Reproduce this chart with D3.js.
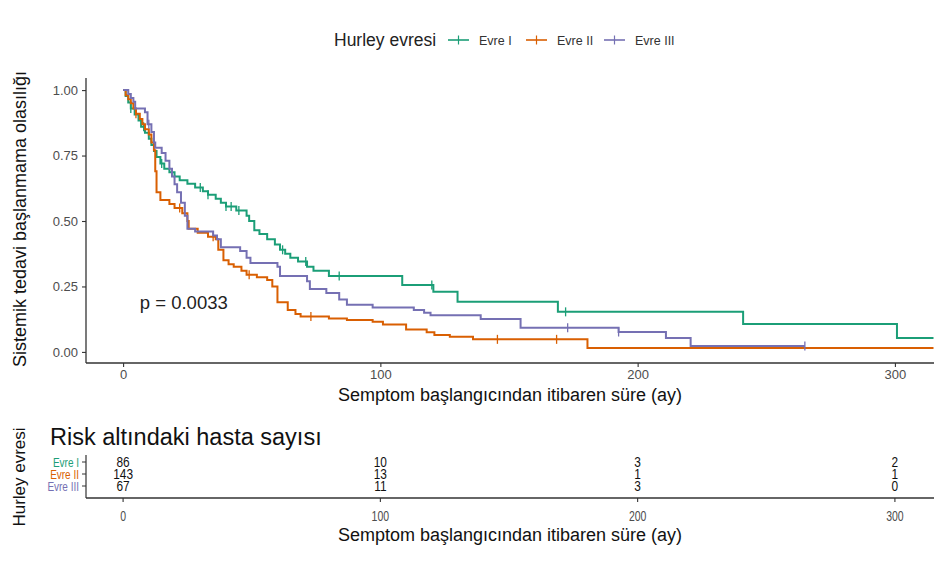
<!DOCTYPE html>
<html>
<head>
<meta charset="utf-8">
<script src="https://cdn.jsdelivr.net/npm/d3@7"></script>
<style>
  body { margin: 0; background: #fff; }
  svg { font-family: "Liberation Sans", Arial, sans-serif; }
</style>
</head>
<body>
<svg id="chart" width="936" height="584"></svg>
<script>
// group names + colours (Dark2 style)
const groups = ['Evre I', 'Evre II', 'Evre III']
const colors = ['#1B9E77', '#D95F02', '#7570B3']

// Kaplan-Meier steps: time (ay) where the curve drops, and new value
const evre1Time = [1, 2, 3, 4.5, 6, 7, 8.5, 10, 11, 12, 13, 14.5, 16, 18, 20, 22, 25, 28, 31, 33, 36, 38, 40, 44, 48, 49, 51, 53, 56, 59, 61, 63, 65, 68, 71.5, 74, 80, 108.5, 120.6, 130, 169, 241, 300.8]
const evre1Surv = [0.977, 0.953, 0.93, 0.907, 0.884, 0.86, 0.837, 0.814, 0.79, 0.767, 0.744, 0.72, 0.70, 0.686, 0.67, 0.656, 0.642, 0.628, 0.614, 0.60, 0.585, 0.57, 0.555, 0.54, 0.52, 0.50, 0.465, 0.45, 0.43, 0.41, 0.39, 0.375, 0.36, 0.345, 0.325, 0.31, 0.29, 0.256, 0.23, 0.192, 0.153, 0.107, 0.053]
const evre1End = 315
const evre1Censor = [3, 8, 15, 30, 33, 40, 42, 45, 62, 71, 84, 120, 172]

const evre2Time = [1, 2, 3, 4, 5, 6.5, 7.5, 8.5, 10, 11, 12, 12.5, 13, 14.5, 18, 20, 23, 25, 25.5, 29, 33, 36, 37, 39, 41, 43, 46, 48, 52, 56, 58, 60, 64, 67, 69, 80, 87, 97, 101, 110, 118, 121, 127, 136, 180.5]
const evre2Surv = [0.98, 0.965, 0.95, 0.93, 0.91, 0.89, 0.87, 0.85, 0.83, 0.80, 0.77, 0.69, 0.61, 0.58, 0.565, 0.55, 0.53, 0.50, 0.47, 0.455, 0.44, 0.43, 0.39, 0.35, 0.335, 0.325, 0.31, 0.295, 0.285, 0.275, 0.25, 0.19, 0.16, 0.145, 0.135, 0.128, 0.122, 0.115, 0.105, 0.086, 0.075, 0.065, 0.058, 0.048, 0.015]
const evre2End = 315
const evre2Censor = [5, 22, 35, 49, 73, 145.5, 168.5]

const evre3Time = [2, 3, 4, 4.7, 8.5, 9.5, 11, 12, 12.5, 15, 16.5, 18, 19, 20, 21, 22.5, 24, 25, 28, 35, 36.5, 38, 45.5, 48, 49.5, 60, 61, 71.5, 72.6, 79, 84, 87, 97, 113, 117, 119.5, 139, 154.5, 192.6, 211, 220.6]
const evre3Surv = [0.985, 0.97, 0.955, 0.93, 0.915, 0.87, 0.84, 0.80, 0.78, 0.76, 0.73, 0.70, 0.67, 0.64, 0.61, 0.57, 0.52, 0.47, 0.46, 0.445, 0.43, 0.40, 0.385, 0.36, 0.34, 0.325, 0.29, 0.27, 0.24, 0.225, 0.20, 0.18, 0.17, 0.16, 0.15, 0.14, 0.126, 0.092, 0.076, 0.053, 0.023]
const evre3End = 265
const evre3Censor = [10, 172.8, 192.6, 265]

// risk table
const riskTimes = [0, 100, 200, 300]
const riskEvre1 = [86, 10, 3, 2]
const riskEvre2 = [143, 13, 1, 1]
const riskEvre3 = [67, 11, 3, 0]

const xTicks = [0, 100, 200, 300]
const yTicks = [0, 0.25, 0.5, 0.75, 1]

const pValueText = 'p = 0.0033'

let svg = d3.select('#chart')

let x = d3.scaleLinear().domain([-15, 315]).range([84.5, 933.5])
let y = d3.scaleLinear().domain([-0.05, 1.05]).range([365, 77])

let curves = [
    {name: groups[0], color: colors[0], time: evre1Time, surv: evre1Surv, end: evre1End, censor: evre1Censor},
    {name: groups[1], color: colors[1], time: evre2Time, surv: evre2Surv, end: evre2End, censor: evre2Censor},
    {name: groups[2], color: colors[2], time: evre3Time, surv: evre3Surv, end: evre3End, censor: evre3Censor}
]

// value of the step function at time t
let survAt = (c, t) => {
    let s = 1
    c.time.forEach((tt, i) => { if (tt <= t) s = c.surv[i] })
    return s
}

// ---- main plot axes
let xAxis = svg.append('g')
    .attr('transform', 'translate(0,363)')
    .call(d3.axisBottom(x).tickValues(xTicks).tickSize(4).tickPadding(3))
let yAxis = svg.append('g')
    .attr('transform', 'translate(86,0)')
    .call(d3.axisLeft(y).tickValues(yTicks).tickFormat(d3.format('.2f')).tickSize(4).tickPadding(4))

;[xAxis, yAxis].forEach(a => {
    a.select('.domain').attr('stroke', '#333').attr('stroke-width', 1.3)
    a.selectAll('.tick line').attr('stroke', '#333').attr('stroke-width', 1.1)
    a.selectAll('.tick text').attr('fill', '#4d4d4d').style('font-size', '13px')
})
xAxis.select('.domain').attr('d', 'M86,0H934')
yAxis.select('.domain').attr('d', 'M0,78V363')

// ---- curves
let line = d3.line()
    .x(d => x(d[0]))
    .y(d => y(d[1]))
    .curve(d3.curveStepAfter)

curves.forEach(c => {
    let pts = [[0, 1]]
    c.time.forEach((t, i) => pts.push([t, c.surv[i]]))
    pts.push([c.end, c.surv[c.surv.length - 1]])

    svg.append('path')
        .datum(pts)
        .attr('d', line)
        .attr('fill', 'none')
        .attr('stroke', c.color)
        .attr('stroke-width', 2)

    // censor marks (+)
    svg.selectAll(null)
        .data(c.censor)
        .enter()
        .append('line')
        .attr('x1', d => x(d))
        .attr('x2', d => x(d))
        .attr('y1', d => y(survAt(c, d)) - 4.5)
        .attr('y2', d => y(survAt(c, d)) + 4.5)
        .attr('stroke', c.color)
        .attr('stroke-width', 1.3)
})

// p value
svg.append('text')
    .attr('x', x(6.5))
    .attr('y', y(0.165))
    .style('font-size', '18.5px')
    .attr('fill', '#222')
    .text(pValueText)

// axis titles
svg.append('text')
    .attr('transform', 'translate(26,219) rotate(-90)')
    .attr('text-anchor', 'middle')
    .style('font-size', '18px')
    .attr('fill', '#111')
    .text('Sistemik tedavi başlanmama olasılığı')

svg.append('text')
    .attr('x', 510)
    .attr('y', 401)
    .attr('text-anchor', 'middle')
    .style('font-size', '18px')
    .attr('fill', '#111')
    .text('Semptom başlangıcından itibaren süre (ay)')

// ---- legend
let legend = svg.append('g')
legend.append('text')
    .attr('x', 334).attr('y', 46)
    .style('font-size', '17.5px')
    .attr('fill', '#222')
    .text('Hurley evresi')

let legendX = [448, 526, 604]
curves.forEach((c, i) => {
    let lx = legendX[i]
    legend.append('line')
        .attr('x1', lx).attr('x2', lx + 21)
        .attr('y1', 40).attr('y2', 40)
        .attr('stroke', c.color).attr('stroke-width', 1.6)
    legend.append('line')
        .attr('x1', lx + 10.5).attr('x2', lx + 10.5)
        .attr('y1', 35.5).attr('y2', 44.5)
        .attr('stroke', c.color).attr('stroke-width', 1.2)
    legend.append('text')
        .attr('x', lx + 31).attr('y', 44.5)
        .style('font-size', '12.5px')
        .attr('fill', '#333')
        .text(c.name)
})

// ---- risk table
let riskRows = [riskEvre1, riskEvre2, riskEvre3]
let yRisk = d3.scalePoint().domain(groups).range([462, 486])

svg.append('text')
    .attr('x', 50).attr('y', 445)
    .style('font-size', '23.5px')
    .attr('fill', '#111')
    .text('Risk altındaki hasta sayısı')

// condensed text like the original table (squeezed horizontally)
let narrowText = (g, tx, ty, txt, anchor, size, fill, sx) => {
    g.append('text')
        .attr('transform', `translate(${tx},${ty}) scale(${sx},1)`)
        .attr('text-anchor', anchor)
        .attr('dy', '0.36em')
        .style('font-size', size)
        .attr('fill', fill)
        .text(txt)
}

let risk = svg.append('g')
riskRows.forEach((row, i) => {
    row.forEach((n, j) => {
        narrowText(risk, x(riskTimes[j]), yRisk(groups[i]), n, 'middle', '14.5px', '#111', 0.82)
    })
    // coloured row labels + ticks
    narrowText(risk, 79, yRisk(groups[i]), groups[i], 'end', '12.5px', colors[i], 0.8)
    risk.append('line')
        .attr('x1', 82).attr('x2', 86)
        .attr('y1', yRisk(groups[i])).attr('y2', yRisk(groups[i]))
        .attr('stroke', '#333').attr('stroke-width', 1)
})

risk.append('line')
    .attr('x1', 86).attr('x2', 86)
    .attr('y1', 455).attr('y2', 498)
    .attr('stroke', '#333').attr('stroke-width', 1.2)
risk.append('line')
    .attr('x1', 86).attr('x2', 934)
    .attr('y1', 498).attr('y2', 498)
    .attr('stroke', '#333').attr('stroke-width', 1.3)

xTicks.forEach(t => {
    risk.append('line')
        .attr('x1', x(t)).attr('x2', x(t))
        .attr('y1', 498).attr('y2', 502)
        .attr('stroke', '#333').attr('stroke-width', 1.1)
    narrowText(risk, x(t), 516, t, 'middle', '14px', '#4d4d4d', 0.75)
})

svg.append('text')
    .attr('x', 510).attr('y', 541)
    .attr('text-anchor', 'middle')
    .style('font-size', '18px')
    .attr('fill', '#111')
    .text('Semptom başlangıcından itibaren süre (ay)')

svg.append('text')
    .attr('transform', 'translate(25,477) rotate(-90)')
    .attr('text-anchor', 'middle')
    .style('font-size', '17px')
    .attr('fill', '#111')
    .text('Hurley evresi')
</script>
</body>
</html>
